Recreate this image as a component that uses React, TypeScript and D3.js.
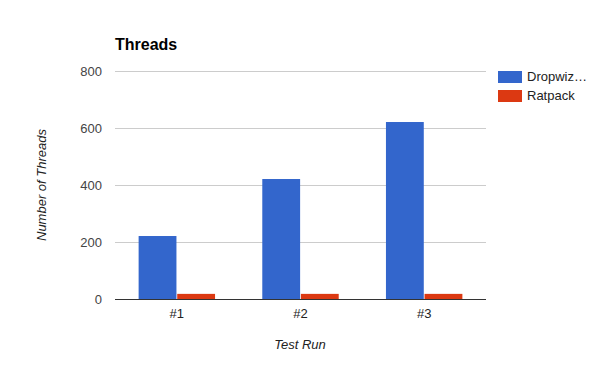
import React from "react";
import * as d3 from "d3";

const categories = ["#1", "#2", "#3"];
const seriesNames = ["Dropwiz…", "Ratpack"];
const dropwizard = [221, 421, 621];
const ratpack = [18, 18, 18];
const yTicks = [0, 200, 400, 600, 800];
const colors = ["#3366cc", "#dc3912"];

export default function App() {
  const W = 600, H = 371;
  const left = 115, right = 486, top = 71, bottom = 299;
  const x = d3.scaleBand<string>().domain(categories).range([left, right]).paddingInner(0.382).paddingOuter(0.191);
  const y = d3.scaleLinear().domain([0, 800]).range([bottom, top]);
  const inner = d3.scaleBand<string>().domain(seriesNames).range([0, x.bandwidth()]).paddingInner(0.02);
  const series = [dropwizard, ratpack];
  const font = "Arial, 'Liberation Sans', sans-serif";
  return (
    <svg width={W} height={H} style={{ position: "absolute", left: 0, top: 0, fontFamily: font }}>
      <rect width={W} height={H} fill="#fff" />
      <text x={115} y={50} fontSize={16} fontWeight="bold" fill="#000">Threads</text>
      {yTicks.map((t) => (
        <g key={t}>
          {t !== 0 && <line x1={left} x2={right} y1={y(t)} y2={y(t)} stroke="#cccccc" strokeWidth={1} shapeRendering="crispEdges" />}
          <text x={102} y={y(t)} dy="0.36em" textAnchor="end" fontSize={13} fill="#444">{t}</text>
        </g>
      ))}
      {categories.map((c, i) => (
        <g key={c}>
          {series.map((s, j) => (
            <rect key={j} x={(x(c) as number) + (inner(seriesNames[j]) as number)} width={inner.bandwidth()}
              y={y(s[i])} height={bottom - y(s[i])} fill={colors[j]} />
          ))}
          <text x={(x(c) as number) + x.bandwidth() / 2} y={318} textAnchor="middle" fontSize={13} fill="#222">{c}</text>
        </g>
      ))}
      <line x1={left} x2={right} y1={bottom} y2={bottom} stroke="#333" strokeWidth={1} shapeRendering="crispEdges" />
      <text x={300} y={349} textAnchor="middle" fontSize={13} fontStyle="italic" fill="#222">Test Run</text>
      <text transform={`translate(46,${(top + bottom) / 2}) rotate(-90)`} textAnchor="middle" fontSize={13} fontStyle="italic" fill="#222">Number of Threads</text>
      {seriesNames.map((n, j) => (
        <g key={n}>
          <rect x={498} y={71 + j * 19} width={24} height={12} fill={colors[j]} />
          <text x={527} y={81 + j * 19} fontSize={13} fill="#222">{n}</text>
        </g>
      ))}
    </svg>
  );
}
